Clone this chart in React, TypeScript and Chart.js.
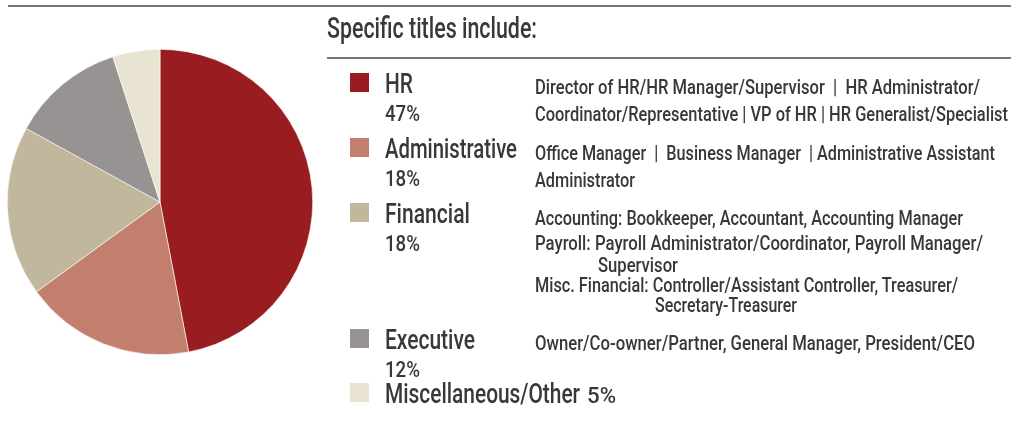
import React, { useEffect, useRef } from "react";
import { Chart, registerables } from "chart.js";

Chart.register(...registerables);

const categories = ["HR", "Administrative", "Financial", "Executive", "Miscellaneous/Other"];
const shares = [47, 18, 18, 12, 5];
const colors = ["#991c20", "#c27f6d", "#c1b79c", "#979392", "#e9e3d2"];
const pctLabels = ["47%", "18%", "18%", "12%", "5%"];
const descriptions: string[][] = [
  [
    "Director of HR/HR Manager/Supervisor  |  HR Administrator/",
    "Coordinator/Representative | VP of HR | HR Generalist/Specialist",
  ],
  ["Office Manager  |  Business Manager  | Administrative Assistant", "Administrator"],
  [
    "Accounting: Bookkeeper, Accountant, Accounting Manager",
    "Payroll: Payroll Administrator/Coordinator, Payroll Manager/",
    "Supervisor",
    "Misc. Financial: Controller/Assistant Controller, Treasurer/",
    "Secretary-Treasurer",
  ],
  ["Owner/Co-owner/Partner, General Manager, President/CEO"],
  [],
];
const titleText = "Specific titles include:";

const FONT = 'Roboto, "Liberation Sans", sans-serif';
const TEXT = "#383838";

// layout (positions / fitted widths only)
const rowLabelBase = [93, 158, 223, 349, 403];
const rowLabelWidth = [28, 132, 85, 90, 195];
const rowPctBase = [121, 186, 251, 377, 403];
const rowPctX = [385, 385, 385, 385, 587];
const rowPctWidth = [35, 35, 35, 35, 29];
const descLayout: { x: number; y: number; w: number }[][] = [
  [
    { x: 535, y: 94, w: 445 },
    { x: 535, y: 121, w: 473 },
  ],
  [
    { x: 535, y: 160, w: 460 },
    { x: 535, y: 187, w: 100 },
  ],
  [
    { x: 535, y: 225, w: 428 },
    { x: 535, y: 250, w: 448 },
    { x: 598, y: 272, w: 80 },
    { x: 535, y: 292, w: 423 },
    { x: 655, y: 312, w: 142 },
  ],
  [{ x: 535, y: 350, w: 440 }],
  [],
];

function PieChart() {
  const ref = useRef<HTMLCanvasElement | null>(null);
  useEffect(() => {
    if (!ref.current) return;
    const chart = new Chart(ref.current, {
      type: "pie",
      data: {
        labels: categories,
        datasets: [
          {
            data: shares,
            backgroundColor: colors,
            borderColor: "#ffffff",
            borderWidth: 0.6,
          },
        ],
      },
      options: {
        responsive: false,
        animation: false,
        layout: { padding: 0 },
        plugins: { legend: { display: false }, tooltip: { enabled: false } },
      },
    });
    return () => chart.destroy();
  }, []);
  return (
    <canvas
      ref={ref}
      width={306}
      height={306}
      style={{ position: "absolute", left: 7, top: 49, width: 306, height: 306 }}
    />
  );
}

export default function App() {
  return (
    <div
      style={{
        position: "fixed",
        left: 0,
        top: 0,
        width: 1011,
        height: 428,
        background: "#ffffff",
        overflow: "hidden",
      }}
    >
      <PieChart />
      <svg
        width={1011}
        height={428}
        style={{ position: "absolute", left: 0, top: 0 }}
        fontFamily={FONT}
        fontWeight={500}
      >
        <rect x={8} y={5} width={1003} height={2} fill="#777777" />
        <rect x={327} y={57} width={684} height={2} fill="#777777" />
        <text
          x={327}
          y={38}
          fontSize={30}
          fill={TEXT}
          textLength={210}
          lengthAdjust="spacingAndGlyphs"
        >
          {titleText}
        </text>
        {categories.map((c, i) => (
          <g key={c}>
            <rect x={350} y={rowLabelBase[i] - 20} width={19} height={19} fill={colors[i]} />
            <text
              x={385}
              y={rowLabelBase[i]}
              fontSize={28}
              fill={TEXT}
              textLength={rowLabelWidth[i]}
              lengthAdjust="spacingAndGlyphs"
            >
              {c}
            </text>
            <text
              x={rowPctX[i]}
              y={rowPctBase[i]}
              fontSize={22}
              fill={TEXT}
              textLength={rowPctWidth[i]}
              lengthAdjust="spacingAndGlyphs"
            >
              {pctLabels[i]}
            </text>
            {descriptions[i].map((d, j) => (
              <text
                key={j}
                x={descLayout[i][j].x}
                y={descLayout[i][j].y}
                fontSize={20.5}
                fill={TEXT}
                textLength={descLayout[i][j].w}
                lengthAdjust="spacingAndGlyphs"
                style={{ whiteSpace: "pre" }}
              >
                {d}
              </text>
            ))}
          </g>
        ))}
      </svg>
    </div>
  );
}
